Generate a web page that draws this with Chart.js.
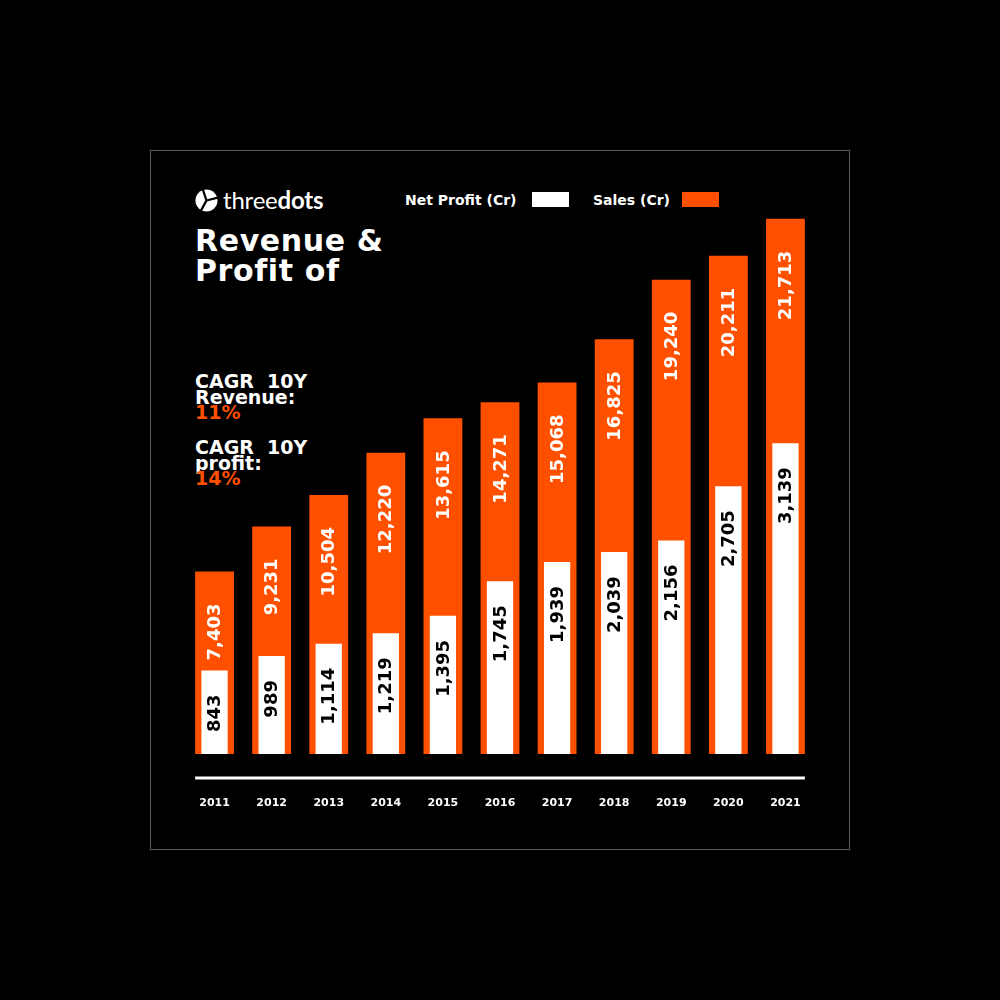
<!DOCTYPE html>
<html>
<head>
<meta charset="utf-8">
<script src="https://cdn.jsdelivr.net/npm/chart.js@4.4.0/dist/chart.umd.min.js"></script>
<style>
    html, body { margin: 0; padding: 0; background: #000; }
    body { width: 1000px; height: 1000px; position: relative; overflow: hidden; font-family: 'DejaVu Sans', sans-serif; color: #fff; }
    .abs { position: absolute; }
    #frame { left: 150px; top: 150px; width: 700px; height: 700px; border: 1px solid #5a5a5a; box-sizing: border-box; }
    #logo { left: 195px; top: 186px; height: 28px; display: flex; align-items: center; gap: 5px; }
    #logo span { font-family: Lato, sans-serif; font-size: 24px; letter-spacing: -0.2px; line-height: 28px; }
    #title { left: 195px; top: 226px; font-weight: bold; font-size: 30px; line-height: 30px; white-space: nowrap; letter-spacing: 0.6px; }
    .cagr { left: 195px; font-weight: bold; font-size: 19px; line-height: 15.5px; white-space: pre; }
    .cagr .pct { color: #ff5000; }
    .leg { top: 193px; font-weight: bold; font-size: 14px; line-height: 14px; white-space: nowrap; }
    .box { top: 192px; width: 37px; height: 15px; }
    #chartWrap { left: 186px; top: 150px; width: 628px; height: 658px; }
</style>
</head>
<body>
<div id="frame" class="abs"></div>

<div id="logo" class="abs">
    <svg width="23" height="23" viewBox="0 0 24 24">
        <circle cx="12" cy="12" r="11.5" fill="#fff"/>
        <path d="M12 12 L24 9 M12 12 L6 23 M12 12 L8 0" stroke="#000" stroke-width="2.4"/>
    </svg>
    <span><span style="font-weight:400">three</span><span style="font-weight:700">dots</span></span>
</div>

<div id="title" class="abs">Revenue &amp;<br>Profit of</div>

<div class="abs cagr" style="top:374px">CAGR  10Y
Revenue:
<span class="pct">11%</span></div>
<div class="abs cagr" style="top:440px">CAGR  10Y
profit:
<span class="pct">14%</span></div>

<div class="abs leg" style="left:405px">Net Profit (Cr)</div>
<div class="abs box" style="left:532px;background:#fff"></div>
<div class="abs leg" style="left:593px">Sales (Cr)</div>
<div class="abs box" style="left:682px;background:#ff5000"></div>

<div id="chartWrap" class="abs"><canvas id="chart"></canvas></div>

<script>
const years = ['2011', '2012', '2013', '2014', '2015', '2016', '2017', '2018', '2019', '2020', '2021'];
const sales = [7403, 9231, 10504, 12220, 13615, 14271, 15068, 16825, 19240, 20211, 21713];
const netProfit = [843, 989, 1114, 1219, 1395, 1745, 1939, 2039, 2156, 2705, 3139];

const ORANGE = '#ff5000';
const LABEL_FONT = 'bold 18px "DejaVu Sans"';

// rotated value labels inside the bars
const barLabels = {
    id: 'barLabels',
    afterDatasetsDraw(chart) {
        const ctx = chart.ctx;
        chart.data.datasets.forEach((ds, di) => {
            const meta = chart.getDatasetMeta(di);
            meta.data.forEach((bar, i) => {
                const txt = ds.data[i].toLocaleString('en-US');
                ctx.save();
                ctx.translate(bar.x, bar.y + ds.labelOffset);
                ctx.rotate(-Math.PI / 2);
                ctx.font = LABEL_FONT;
                ctx.fillStyle = ds.labelColor;
                ctx.textAlign = 'right';
                ctx.textBaseline = 'middle';
                ctx.fillText(txt, 0, 1);
                ctx.restore();
            });
        });
    }
};

// white base line under the bars
const baseLine = {
    id: 'baseLine',
    afterDraw(chart) {
        const bars = chart.getDatasetMeta(1).data;
        if (!bars.length) return;
        const first = bars[0], last = bars[bars.length - 1];
        const y = chart.chartArea.bottom + 24;
        const ctx = chart.ctx;
        ctx.save();
        ctx.strokeStyle = '#fff';
        ctx.lineWidth = 3;
        ctx.beginPath();
        ctx.moveTo(first.x - first.width / 2, y);
        ctx.lineTo(last.x + last.width / 2, y);
        ctx.stroke();
        ctx.restore();
    }
};

new Chart(document.getElementById('chart'), {
    type: 'bar',
    data: {
        labels: years,
        datasets: [
            { label: 'Net Profit (Cr)', data: netProfit, yAxisID: 'yp', backgroundColor: '#fff',
              barPercentage: 0.46, categoryPercentage: 1, grouped: false, labelColor: '#000', labelOffset: 24 },
            { label: 'Sales (Cr)', data: sales, yAxisID: 'ys', backgroundColor: ORANGE,
              barPercentage: 0.68, categoryPercentage: 1, grouped: false, labelColor: '#fff', labelOffset: 32 }
        ]
    },
    options: {
        responsive: true,
        maintainAspectRatio: false,
        animation: false,
        layout: { padding: 0 },
        plugins: { legend: { display: false }, tooltip: { enabled: false } },
        scales: {
            x: {
                grid: { display: false, drawTicks: false },
                border: { display: false },
                ticks: { color: '#fff', padding: 43, font: { family: 'DejaVu Sans', size: 11, weight: 'bold' } },
                // keep the plot full width, labels sit ~45px under the bars
                afterFit(scale) { scale.paddingLeft = 0; scale.paddingRight = 0; scale.height = 54; }
            },
            ys: { display: false, min: 0, max: 24500 },
            yp: { display: false, min: 0, max: 6100 }
        }
    },
    plugins: [barLabels, baseLine]
});
</script>
</body>
</html>
